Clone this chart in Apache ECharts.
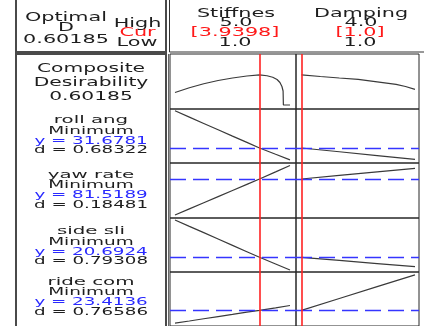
<!DOCTYPE html>
<html>
<head>
<meta charset="utf-8">
<script src="https://cdn.jsdelivr.net/npm/echarts@6/dist/echarts.min.js"></script>
<style>
html,body{margin:0;padding:0;background:#fff}
#chart{width:424px;height:326px}
</style>
</head>
<body>
<div id="chart"></div>
<script>
// Factor settings
const factorNames = ['Stiffnes', 'Damping'];
const factorHigh = ['5.0', '4.0'];
const factorLow = ['1.0', '1.0'];
const factorCur = [3.9398, 1.0];
const factorCurText = ['[3.9398]', '[1.0]'];

// Composite desirability traces
const compStiffLevels = [1.0, 1.5, 2.0, 2.5, 3.0, 3.5, 3.9398, 4.2, 4.4, 4.55, 4.65, 4.72, 4.76, 4.77, 5.0];
const compStiffD = [0.25, 0.345, 0.425, 0.49, 0.54, 0.58, 0.60185, 0.585, 0.555, 0.51, 0.45, 0.37, 0.28, 0.0, 0.0];
const compDampLevels = [1.0, 1.5, 2.0, 2.5, 3.0, 3.5, 3.75, 4.0];
const compDampD = [0.60185, 0.57, 0.54, 0.511, 0.462, 0.413, 0.37, 0.314];
const compositeD = 0.60185;

// Response traces
const stiffLevels = [1.0, 1.5, 2.0, 2.5, 3.0, 3.5, 3.9398, 4.5, 5.0];
const dampLevels = [1.0, 2.0, 3.0, 4.0];

const rollStiff = [40.23, 38.78, 37.32, 35.87, 34.41, 32.96, 31.6781, 30.23, 28.95];
const rollDamp = [31.6781, 30.81, 29.94, 29.08];
const yawStiff = [72.52, 74.05, 75.58, 77.11, 78.64, 80.17, 81.5189, 83.30, 84.90];
const yawDamp = [81.5189, 82.41, 83.31, 84.20];
const sideStiff = [28.15, 26.88, 25.62, 24.35, 23.08, 21.81, 20.6924, 19.35, 18.15];
const sideDamp = [20.6924, 20.07, 19.44, 18.81];
const rideStiff = [21.75, 22.03, 22.32, 22.60, 22.88, 23.17, 23.4136, 23.74, 24.04];
const rideDamp = [23.4136, 24.95, 26.48, 28.0];

// Response summaries at the current setting
const responseNames = ['roll ang', 'yaw rate', 'side sli', 'ride com'];
const responseGoals = ['Minimum', 'Minimum', 'Minimum', 'Minimum'];
const responseY = ['31.6781', '81.5189', '20.6924', '23.4136'];
const responseD = ['0.68322', '0.18481', '0.79308', '0.76586'];

// Panel layout
const colLeft = [170, 296];
const colWidth = [126, 123];
const colMin = [0.826, 0.855];
const colMax = [5.209, 4.106];
const rowTop = [54, 109, 163, 218, 272];
const rowHeight = [55, 54, 55, 54, 56];
const rowMin = [-0.08, 28.23, 71.77, 17.75, 21.38];
const rowMax = [1.02, 40.64, 85.52, 28.55, 28.38];

const rows = [
  { sx: compStiffLevels, sy: compStiffD, dx: compDampLevels, dy: compDampD, target: null },
  { sx: stiffLevels, sy: rollStiff, dx: dampLevels, dy: rollDamp, target: +responseY[0] },
  { sx: stiffLevels, sy: yawStiff, dx: dampLevels, dy: yawDamp, target: +responseY[1] },
  { sx: stiffLevels, sy: sideStiff, dx: dampLevels, dy: sideDamp, target: +responseY[2] },
  { sx: stiffLevels, sy: rideStiff, dx: dampLevels, dy: rideDamp, target: +responseY[3] }
];

const grids = [], xAxes = [], yAxes = [], series = [];
rows.forEach((row, r) => {
  [0, 1].forEach(c => {
    const gi = r * 2 + c;
    grids.push({
      left: colLeft[c], top: rowTop[r], width: colWidth[c], height: rowHeight[r],
      show: true, borderColor: '#262626', borderWidth: 1, backgroundColor: 'transparent'
    });
    xAxes.push({ gridIndex: gi, type: 'value', min: colMin[c], max: colMax[c], show: false });
    yAxes.push({ gridIndex: gi, type: 'value', min: rowMin[r], max: rowMax[r], show: false });
    const xs = c === 0 ? row.sx : row.dx;
    const ys = c === 0 ? row.sy : row.dy;
    const marks = [];
    if (row.target !== null) {
      marks.push({ yAxis: row.target, lineStyle: { color: '#3535ff', opacity: 1, width: 1.4, type: [16, 7] } });
    }
    marks.push({ xAxis: factorCur[c], lineStyle: { color: '#ff2222', opacity: 1, width: 1.6, type: 'solid' } });
    series.push({
      type: 'line', xAxisIndex: gi, yAxisIndex: gi,
      data: xs.map((x, i) => [x, ys[i]]),
      showSymbol: false, symbol: 'none', silent: true,
      lineStyle: { color: '#3a3a3a', width: 1.2 },
      markLine: { silent: true, symbol: 'none', label: { show: false }, data: marks, animation: false,
        emphasis: { disabled: true } }
    });
  });
});

// Text helpers
const FONT_FAMILY = '"DejaVu Sans", sans-serif';
function label(text, x, y, size, color, sx) {
  return {
    type: 'text', x: x, y: y, scaleX: sx, scaleY: 1, z: 10,
    style: {
      text: text, x: 0, y: 0, fill: color,
      font: size + 'px ' + FONT_FAMILY,
      textAlign: 'center', textVerticalAlign: 'middle',
      align: 'center', verticalAlign: 'middle'
    }
  };
}
const INK = '#1e1e1e';
const RED = '#ff1a1a';
const BLUE = '#2a2aff';

const graphics = [];
// Boxes
function box(x, y, w, h, lw, color) {
  return { type: 'rect', z: 5, shape: { x: x, y: y, width: w, height: h },
    style: { fill: 'none', stroke: color, lineWidth: lw } };
}
graphics.push(box(16, -5, 150, 57, 2, '#4a4a4a'));
graphics.push(box(16, 54, 150, 290, 2, '#4a4a4a'));
graphics.push(box(169.5, -5, 270, 57, 1, '#333'));
graphics.push({ type: 'line', z: 5, shape: { x1: 168.5, y1: 54, x2: 168.5, y2: 330 },
  style: { stroke: '#666', lineWidth: 1 } });

// Header: optimal D and level labels
graphics.push(label('Optimal', 66, 17.5, 12.5, INK, 1.66));
graphics.push(label('D', 66, 28, 12.5, INK, 1.66));
graphics.push(label(compositeD.toFixed(5), 66, 39.5, 12.5, INK, 1.66));
graphics.push(label('High', 137.5, 24, 12.5, INK, 1.66));
graphics.push(label('Cur', 137.5, 33, 12.5, RED, 1.66));
graphics.push(label('Low', 137, 42.5, 12.5, INK, 1.66));

// Header: factor columns
const factorCenter = [236, 361];
factorNames.forEach((n, c) => {
  graphics.push(label(n, factorCenter[c], 13.5, 12.5, INK, 1.66));
  graphics.push(label(factorHigh[c], factorCenter[c], 23, 12.5, INK, 1.66));
  graphics.push(label(factorCurText[c], factorCenter[c] - 1, 32.5, 12.5, RED, 1.66));
  graphics.push(label(factorLow[c], factorCenter[c] - 1, 42.5, 12.5, INK, 1.66));
});

// Left column: composite block
graphics.push(label('Composite', 91, 69, 12.5, INK, 1.62));
graphics.push(label('Desirability', 91, 83, 12.5, INK, 1.62));
graphics.push(label(compositeD.toFixed(5), 91, 97, 12.5, INK, 1.62));

// Left column: response blocks
const blockTop = [120.5, 175, 231.5, 282];
responseNames.forEach((n, i) => {
  const t = blockTop[i];
  graphics.push(label(n, 91, t, 11, INK, 1.8));
  graphics.push(label(responseGoals[i], 91, t + 10.3, 11, INK, 1.68));
  graphics.push(label('y = ' + responseY[i], 91, t + 20.3, 11, BLUE, 1.66));
  graphics.push(label('d = ' + responseD[i], 91, t + 30, 11, INK, 1.66));
});

const chart = echarts.init(document.getElementById('chart'), null, { renderer: 'canvas' });
chart.setOption({
  animation: false,
  backgroundColor: '#ffffff',
  grid: grids,
  xAxis: xAxes,
  yAxis: yAxes,
  series: series,
  graphic: { elements: graphics }
});
</script>
</body>
</html>
